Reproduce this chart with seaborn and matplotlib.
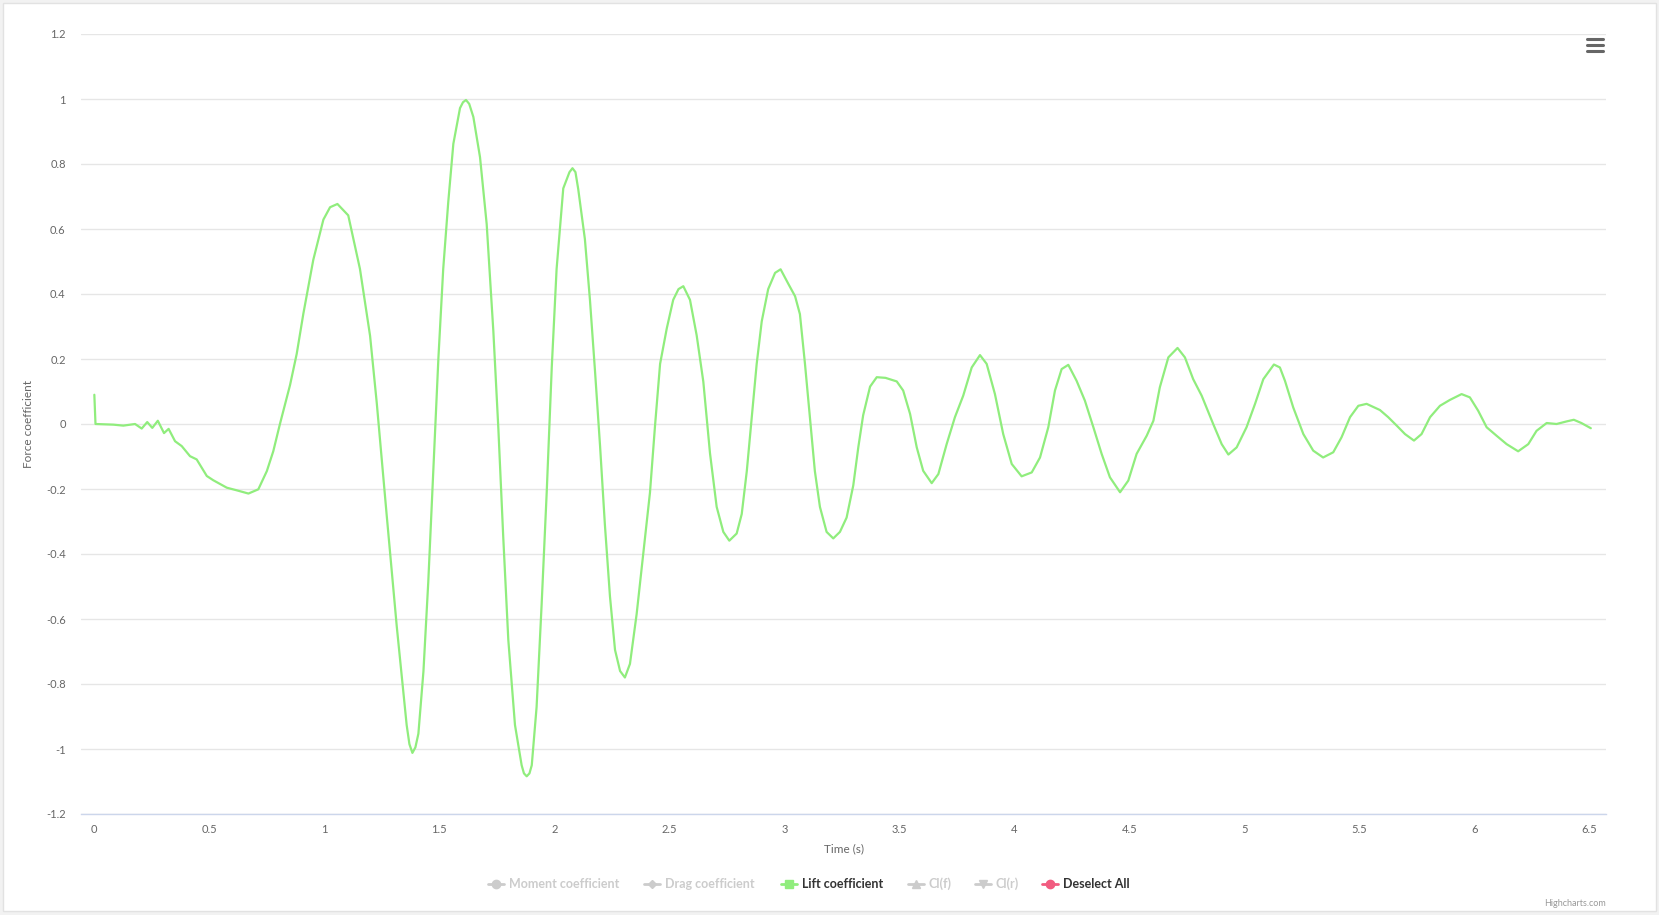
import matplotlib
matplotlib.use("Agg")
import matplotlib.pyplot as plt
from matplotlib.lines import Line2D
from matplotlib.patches import Rectangle
import pandas as pd
import seaborn as sns

# --- datos (Lift coefficient vs tiempo) ---
tiempo = [0.000, 0.005, 0.083, 0.126, 0.177, 0.206, 0.230, 0.252, 0.276, 0.303,
          0.323, 0.351, 0.380, 0.416, 0.445, 0.489, 0.517, 0.576, 0.619, 0.670,
          0.713, 0.750, 0.778, 0.807, 0.851, 0.880, 0.909, 0.952, 0.996, 1.025,
          1.057, 1.104, 1.155, 1.199, 1.228, 1.271, 1.315, 1.358, 1.370, 1.383,
          1.396, 1.409, 1.431, 1.452, 1.474, 1.496, 1.517, 1.539, 1.561, 1.590,
          1.603, 1.616, 1.630, 1.648, 1.677, 1.706, 1.735, 1.757, 1.778, 1.800,
          1.829, 1.858, 1.868, 1.880, 1.892, 1.902, 1.923, 1.945, 1.967, 1.989,
          2.010, 2.039, 2.066, 2.079, 2.092, 2.104, 2.133, 2.155, 2.177, 2.199,
          2.220, 2.242, 2.264, 2.286, 2.307, 2.329, 2.358, 2.387, 2.416, 2.438,
          2.460, 2.489, 2.517, 2.540, 2.561, 2.590, 2.619, 2.648, 2.677, 2.706,
          2.735, 2.761, 2.793, 2.815, 2.837, 2.858, 2.880, 2.902, 2.930, 2.960,
          2.984, 3.017, 3.047, 3.068, 3.090, 3.112, 3.133, 3.155, 3.184, 3.213,
          3.242, 3.271, 3.300, 3.322, 3.343, 3.373, 3.402, 3.440, 3.489, 3.517,
          3.547, 3.576, 3.604, 3.641, 3.670, 3.706, 3.742, 3.778, 3.815, 3.851,
          3.880, 3.916, 3.952, 3.989, 4.032, 4.076, 4.112, 4.148, 4.177, 4.206,
          4.235, 4.271, 4.307, 4.344, 4.380, 4.416, 4.460, 4.496, 4.532, 4.576,
          4.605, 4.633, 4.670, 4.710, 4.742, 4.778, 4.815, 4.865, 4.902, 4.931,
          4.967, 5.010, 5.047, 5.083, 5.129, 5.155, 5.177, 5.213, 5.257, 5.300,
          5.343, 5.387, 5.423, 5.460, 5.496, 5.532, 5.590, 5.626, 5.663, 5.699,
          5.738, 5.771, 5.808, 5.851, 5.894, 5.945, 5.981, 6.017, 6.054, 6.097,
          6.141, 6.191, 6.235, 6.271, 6.315, 6.358, 6.402, 6.433, 6.466, 6.507]

lift = [0.090, 0.000, -0.002, -0.005, 0.000, -0.014, 0.006, -0.012, 0.010, -0.028,
        -0.015, -0.053, -0.068, -0.099, -0.109, -0.160, -0.173, -0.196, -0.204, -0.214,
        -0.201, -0.145, -0.084, 0.000, 0.120, 0.216, 0.340, 0.505, 0.629, 0.667,
        0.677, 0.642, 0.477, 0.271, 0.065, -0.279, -0.623, -0.926, -0.985, -1.012,
        -0.995, -0.953, -0.761, -0.486, -0.142, 0.202, 0.477, 0.684, 0.862, 0.972,
        0.990, 0.997, 0.985, 0.945, 0.821, 0.615, 0.285, -0.018, -0.348, -0.664,
        -0.926, -1.050, -1.075, -1.084, -1.075, -1.050, -0.871, -0.554, -0.210, 0.175,
        0.477, 0.725, 0.775, 0.787, 0.775, 0.723, 0.569, 0.382, 0.163, -0.068,
        -0.310, -0.530, -0.695, -0.760, -0.780, -0.738, -0.585, -0.398, -0.211, -0.005,
        0.185, 0.294, 0.382, 0.415, 0.424, 0.382, 0.273, 0.130, -0.090, -0.255,
        -0.332, -0.359, -0.337, -0.277, -0.145, 0.016, 0.185, 0.316, 0.415, 0.465,
        0.476, 0.432, 0.393, 0.338, 0.185, 0.016, -0.145, -0.255, -0.332, -0.352,
        -0.332, -0.288, -0.189, -0.071, 0.027, 0.115, 0.144, 0.142, 0.131, 0.103,
        0.031, -0.072, -0.144, -0.182, -0.154, -0.062, 0.021, 0.087, 0.174, 0.212,
        0.185, 0.092, -0.031, -0.123, -0.161, -0.149, -0.103, -0.010, 0.103, 0.169,
        0.182, 0.133, 0.072, -0.010, -0.092, -0.164, -0.210, -0.174, -0.092, -0.036,
        0.010, 0.113, 0.205, 0.234, 0.205, 0.138, 0.087, 0.000, -0.062, -0.094,
        -0.072, -0.010, 0.062, 0.138, 0.183, 0.174, 0.133, 0.051, -0.031, -0.082,
        -0.103, -0.087, -0.041, 0.021, 0.056, 0.062, 0.043, 0.021, -0.005, -0.031,
        -0.051, -0.031, 0.021, 0.056, 0.074, 0.092, 0.082, 0.041, -0.010, -0.036,
        -0.062, -0.084, -0.062, -0.021, 0.003, 0.000, 0.008, 0.013, 0.003, -0.013]

x_ticks = [0, 0.5, 1, 1.5, 2, 2.5, 3, 3.5, 4, 4.5, 5, 5.5, 6, 6.5]
y_ticks = [-1.2, -1, -0.8, -0.6, -0.4, -0.2, 0, 0.2, 0.4, 0.6, 0.8, 1, 1.2]

series_names = ["Moment coefficient", "Drag coefficient", "Lift coefficient",
                "Cl(f)", "Cl(r)", "Deselect All"]

# --- estilo ---
W, H = 1659, 915
sns.set_style("white")
plt.rcParams['font.family'] = ['Lato', 'DejaVu Sans']

GRIS_TXT = '#666666'
VERDE = '#90ed7d'

fig = plt.figure(figsize=(W / 100, H / 100), dpi=100, facecolor='#f2f2f2')
fig.patches.append(Rectangle((3 / W, 4 / H), 1653 / W, 908 / H, transform=fig.transFigure,
                             facecolor='white', edgecolor='#e2e2e2', lw=1, zorder=-5))

ax = fig.add_axes([81 / W, 1 - 814 / H, (1606 - 81) / W, (814 - 34) / H])
ax.set_facecolor('none')

df = pd.DataFrame({'Time (s)': tiempo, 'Lift coefficient': lift})
sns.lineplot(data=df, x='Time (s)', y='Lift coefficient', color=VERDE, linewidth=1.6,
             estimator=None, sort=False, ax=ax, solid_joinstyle='round')

ax.set_xlim(-0.058, 6.573)
ax.set_ylim(-1.2, 1.2)
ax.set_xticks(x_ticks)
ax.set_xticklabels([f"{v:g}" for v in x_ticks])
ax.set_yticks(y_ticks)
ax.set_yticklabels([f"{v:g}" for v in y_ticks])

ax.yaxis.grid(True, color='#e6e6e6', lw=1)
ax.xaxis.grid(False)
for lado in ['top', 'right', 'left']:
    ax.spines[lado].set_visible(False)
ax.spines['bottom'].set_color('#ccd6eb')
ax.spines['bottom'].set_linewidth(1)
ax.tick_params(axis='x', length=7, width=1, color='#ccd6eb', pad=0,
               labelsize=8, labelcolor=GRIS_TXT)
ax.tick_params(axis='y', length=0, pad=11, labelsize=8, labelcolor=GRIS_TXT)

ax.set_xlabel('Time (s)', color=GRIS_TXT, fontsize=8.5)
ax.xaxis.set_label_coords(0.5, -0.038)
ax.set_ylabel('Force coefficient', color=GRIS_TXT, fontsize=8.5)
ax.yaxis.set_label_coords(-0.0305, 0.5)

# --- leyenda manual ---
marcadores = ['o', 'D', 's', '^', 'v', 'o']
colores_marca = ['#cccccc', '#cccccc', VERDE, '#cccccc', '#cccccc', '#f15c80']
colores_texto = ['#cccccc', '#cccccc', '#333333', '#cccccc', '#cccccc', '#333333']
tam_marca = [6, 4.5, 6, 6, 6, 6]
pos_marca = [496, 652, 789, 916, 983, 1050]
ley_y = 1 - 884 / H
for nombre, m, cm, ct, tm, px in zip(series_names, marcadores, colores_marca,
                                     colores_texto, tam_marca, pos_marca):
    fig.add_artist(Line2D([(px - 8) / W, (px + 8) / W], [ley_y, ley_y],
                          transform=fig.transFigure, color=cm, lw=2))
    fig.add_artist(Line2D([px / W], [ley_y], transform=fig.transFigure, color=cm,
                          marker=m, markersize=tm, lw=0))
    fig.text((px + 13) / W, ley_y, nombre, color=ct, fontsize=9, fontweight='bold',
             ha='left', va='center')

# --- menu (hamburguesa) y credito ---
for yy in [39, 45, 51]:
    fig.add_artist(Line2D([1587 / W, 1603 / W], [1 - yy / H, 1 - yy / H],
                          transform=fig.transFigure, color='#666666', lw=2.2,
                          solid_capstyle='round'))
fig.text(1606 / W, 1 - 903 / H, 'Highcharts.com', color='#999999', fontsize=6.5,
         ha='right', va='center')

plt.savefig('out.png', dpi=100, facecolor=fig.get_facecolor())
plt.close()
